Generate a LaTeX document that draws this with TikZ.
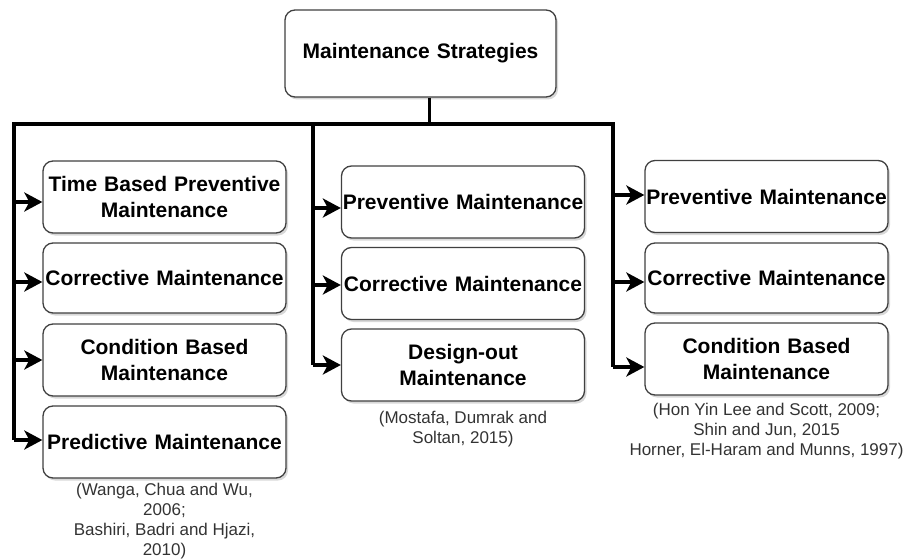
\documentclass[tikz,border=0pt]{standalone}
\usepackage{fontspec}
\setmainfont{Liberation Sans}
\usetikzlibrary{positioning,shadows,arrows.meta}

\tikzstyle{stratbox}=[draw=black!75, line width=1.3pt, rounded corners=10pt, fill=white, align=center, font=\bfseries\fontsize{21}{26}\selectfont, inner sep=1pt, text width=241pt, minimum height=72pt, drop shadow={shadow xshift=2pt,shadow yshift=-2.5pt,fill=black!30}]
\tikzstyle{refnote}=[align=center, inner sep=0pt, text=black!80, font=\fontsize{17}{20}\selectfont]
\tikzstyle{trunk}=[line width=3.5pt]
\tikzstyle{branch}=[line width=3.5pt, -{Stealth[length=18pt,width=19pt,inset=5pt]}]

\begin{document}
\begin{tikzpicture}[x=1pt,y=-1pt]
\useasboundingbox (0,0) rectangle (909,559);

\node[stratbox, text width=269pt, minimum height=87pt] (top) at (420.5,53.5) {Maintenance Strategies};

% left column
\node[stratbox] (tbpm) at (164.5,197) {Time Based Preventive\\Maintenance};
\node[stratbox, minimum height=70pt] (lcm) at (164.5,278) {Corrective Maintenance};
\node[stratbox] (lcbm) at (164.5,360) {Condition Based\\Maintenance};
\node[stratbox] (pdm) at (164.5,442) {Predictive Maintenance};
\node[refnote, below=4pt of pdm] (lref) {(Wanga, Chua and Wu,\\2006;\\Bashiri, Badri and Hjazi,\\2010)};

% middle column
\node[stratbox] (mpm) at (463,202) {Preventive Maintenance};
\node[stratbox] (mcm) at (463,283.5) {Corrective Maintenance};
\node[stratbox] (dom) at (463,365) {Design-out\\Maintenance};
\node[refnote, below=9pt of dom] (mref) {(Mostafa, Dumrak and\\Soltan, 2015)};

% right column
\node[stratbox] (rpm) at (766.5,196.5) {Preventive Maintenance};
\node[stratbox, minimum height=70pt] (rcm) at (766.5,278) {Corrective Maintenance};
\node[stratbox] (rcbm) at (766.5,359) {Condition Based\\Maintenance};
\node[refnote, below=7pt of rcbm] (rref) {(Hon Yin Lee and Scott, 2009;\\Shin and Jun, 2015\\Horner, El-Haram and Munns, 1997)};

\coordinate (lbus) at (14,124);
\coordinate (mbus) at (313,124);
\coordinate (rbus) at (613,124);
\coordinate (stem) at (429,124);

\draw[line width=3pt] (top.south -| stem) -- (stem);
\draw[trunk] ([yshift=2pt]lbus |- pdm.west) -- (lbus) -- (rbus) -- ([yshift=-8pt]rbus |- rcbm.west);
\draw[trunk] (mbus) -- (mbus |- dom.west);

% arrows sit a little off the box middles
\foreach \b/\dy in {tbpm/-5,lcm/-4,lcbm/0,pdm/2}
  \draw[branch] ([yshift=\dy pt]lbus |- \b.west) -- ([yshift=\dy pt]\b.west);
\foreach \b/\dy in {mpm/-6,mcm/-1.5,dom/0}
  \draw[branch] ([yshift=\dy pt]mbus |- \b.west) -- ([yshift=\dy pt]\b.west);
\foreach \b/\dy in {rpm/1.5,rcm/-4,rcbm/-8}
  \draw[branch] ([yshift=\dy pt]rbus |- \b.west) -- ([yshift=\dy pt]\b.west);
\end{tikzpicture}
\end{document}
